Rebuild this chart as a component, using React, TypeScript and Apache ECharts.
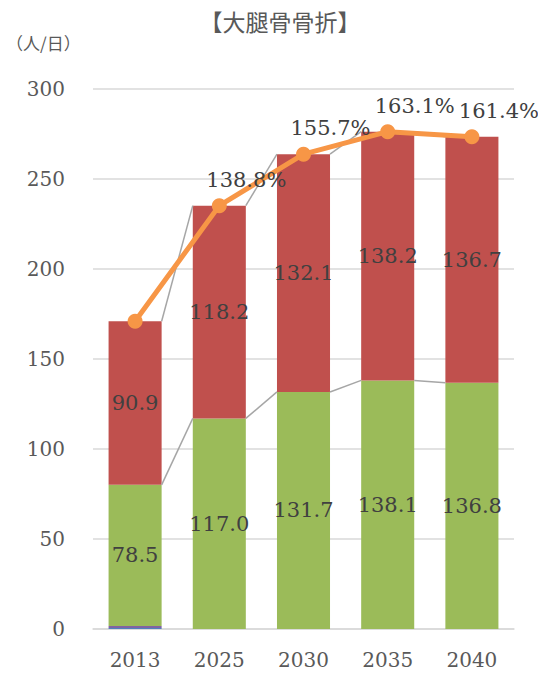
import React, { useEffect, useRef } from "react";
import * as echarts from "echarts";

const categories = ["2013", "2025", "2030", "2035", "2040"];
const blueValues = [0.5, 0, 0, 0, 0];
const purpleValues = [1.1, 0, 0, 0, 0];
const greenValues = [78.5, 117.0, 131.7, 138.1, 136.8];
const redValues = [90.9, 118.2, 132.1, 138.2, 136.7];
const ratioLabels = ["", "138.8%", "155.7%", "163.1%", "161.4%"];
const yTicks = { min: 0, max: 300, interval: 50 };

const SERIF = "'DejaVu Serif', 'Liberation Serif', serif";
const CJK = "'Noto Sans CJK JP', sans-serif";

export default function App() {
  const ref = useRef<HTMLDivElement>(null);
  useEffect(() => {
    if (!ref.current) return;
    const chart = echarts.init(ref.current, null, { renderer: "svg" });
    const greenTops = greenValues.map((g, i) => g + blueValues[i] + purpleValues[i]);
    const totals = greenTops.map((g, i) => g + redValues[i]);
    const seriesLineData: number[][] = [];
    for (let i = 0; i < categories.length - 1; i++) {
      seriesLineData.push([i, greenTops[i], greenTops[i + 1]]);
      seriesLineData.push([i, totals[i], totals[i + 1]]);
    }
    const barLabel = {
      show: true,
      position: "inside",
      color: "#404040",
      fontSize: 21,
      fontFamily: SERIF,
      formatter: (p: any) => p.value.toFixed(1),
    };
    chart.setOption({
      animation: false,
      title: {
        text: "【大腿骨骨折】",
        left: 275,
        textAlign: "center",
        top: 4,
        textStyle: { fontFamily: CJK, fontSize: 23, fontWeight: "normal", color: "#595959" },
      },
      graphic: [
        {
          type: "text",
          left: 6,
          top: 34,
          style: { text: "（人/日）", font: `17px ${CJK}`, fill: "#595959" },
        },
      ],
      grid: { left: 93, right: 32, top: 89, bottom: 51 },
      xAxis: {
        type: "category",
        data: categories,
        axisLine: { lineStyle: { color: "#d9d9d9", width: 1.5 } },
        axisTick: { show: false },
        axisLabel: { color: "#595959", fontSize: 20, fontFamily: SERIF, margin: 21 },
      },
      yAxis: {
        type: "value",
        min: yTicks.min,
        max: yTicks.max,
        interval: yTicks.interval,
        axisLine: { show: false },
        axisTick: { show: false },
        splitLine: { lineStyle: { color: "#d9d9d9", width: 1.5 } },
        axisLabel: { color: "#595959", fontSize: 20, fontFamily: SERIF, margin: 28 },
      },
      series: [
        {
          type: "bar",
          stack: "a",
          data: blueValues,
          barWidth: "63%",
          itemStyle: { color: "#4F81BD" },
        },
        {
          type: "bar",
          stack: "a",
          data: purpleValues,
          itemStyle: { color: "#8064A2" },
        },
        {
          type: "bar",
          stack: "a",
          data: greenValues,
          itemStyle: { color: "#9BBB59" },
          label: barLabel,
        },
        {
          type: "bar",
          stack: "a",
          data: redValues,
          itemStyle: { color: "#C0504D" },
          label: barLabel,
        },
        {
          type: "custom",
          z: 3,
          data: seriesLineData,
          renderItem: (params: any, api: any) => {
            const i = api.value(0);
            const p1 = api.coord([i, api.value(1)]);
            const p2 = api.coord([i + 1, api.value(2)]);
            const bw = api.size([1, 0])[0] * 0.63;
            return {
              type: "line",
              shape: { x1: p1[0] + bw / 2, y1: p1[1], x2: p2[0] - bw / 2, y2: p2[1] },
              style: { stroke: "#a6a6a6", lineWidth: 1.5 },
            };
          },
        },
        {
          type: "line",
          z: 5,
          data: totals,
          symbol: "circle",
          symbolSize: 15,
          lineStyle: { color: "#F79646", width: 5 },
          itemStyle: { color: "#F79646" },
          label: {
            show: true,
            position: "top",
            offset: [27, -3],
            color: "#404040",
            fontSize: 21,
            fontFamily: SERIF,
            formatter: (p: any) => ratioLabels[p.dataIndex],
          },
        },
      ],
    });
    return () => chart.dispose();
  }, []);
  return <div ref={ref} style={{ width: 546, height: 680, margin: -8 }} />;
}
